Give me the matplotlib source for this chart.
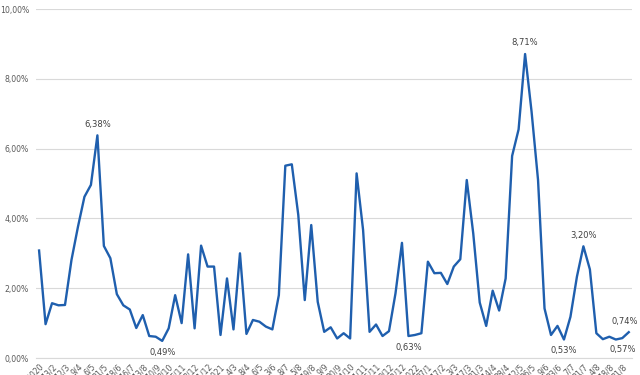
import matplotlib.pyplot as plt
from matplotlib.ticker import FuncFormatter

# weekly share, in percent
values = [
    3.08, 0.97, 1.57, 1.51, 1.52, 2.81, 3.76, 4.62, 4.96, 6.38,
    3.21, 2.86, 1.83, 1.51, 1.39, 0.86, 1.23, 0.63, 0.61, 0.49,
    0.85, 1.80, 1.00, 2.97, 0.85, 3.22, 2.62, 2.62, 0.66, 2.28,
    0.82, 3.00, 0.69, 1.09, 1.04, 0.90, 0.82, 1.80, 5.51, 5.55,
    4.10, 1.66, 3.81, 1.61, 0.75, 0.88, 0.56, 0.71, 0.56, 5.29,
    3.67, 0.75, 0.96, 0.63, 0.77, 1.85, 3.30, 0.63, 0.66, 0.71,
    2.76, 2.43, 2.44, 2.12, 2.62, 2.83, 5.10, 3.57, 1.59, 0.92,
    1.93, 1.36, 2.28, 5.79, 6.55, 8.71, 7.06, 5.10, 1.42, 0.66,
    0.92, 0.53, 1.18, 2.33, 3.20, 2.54, 0.71, 0.54, 0.61, 0.53,
    0.57, 0.74,
]

# one label on every second point
tick_labels = [
    "30/1/2020", "13/2", "12/3", "9/4", "6/5", "21/5", "18/6", "16/7",
    "13/8", "10/9", "8/10", "5/11", "3/12", "31/12", "28/1/2021", "4/3",
    "8/4", "6/5", "3/6", "8/7", "5/8", "19/8", "9/9", "30/9", "14/10",
    "1/11", "25/11", "9/12", "23/12", "13/1/2022", "27/1", "17/2", "3/3",
    "17/3", "31/3", "14/4", "28/4", "12/5", "26/5", "9/6", "23/6", "7/7",
    "21/7", "4/8", "18/8", "31/8",
]

# points that carry a value label
labelled_above = [9, 75, 84, 91]
labelled_below = [19, 57, 81, 90]

LINE = "#1F5FAE"
GRID = "#D9D9D9"
TEXT = "#595959"


def pct(v, decimals=2):
    return f"{v:.{decimals}f}".replace(".", ",") + "%"


fig = plt.figure(figsize=(6.4, 3.75), dpi=100)
ax = fig.add_axes([0.056, 0.0453, 0.9315, 0.9307])

x = list(range(len(values)))
ax.plot(x, values, color=LINE, linewidth=1.7, solid_joinstyle="round")

ax.set_xlim(-0.5, len(values) - 0.5)
ax.set_ylim(0, 10)
ax.set_yticks([0, 2, 4, 6, 8, 10])
ax.yaxis.set_major_formatter(FuncFormatter(lambda v, _: pct(v)))
ax.grid(axis="y", color=GRID, linewidth=0.8)
ax.set_axisbelow(True)

ax.set_xticks(x[::2])
ax.set_xticklabels(tick_labels, rotation=45, ha="right",
                   rotation_mode="anchor", fontsize=5.6, color=TEXT)
ax.tick_params(axis="both", length=0, labelsize=5.6, labelcolor=TEXT)
ax.tick_params(axis="y", pad=5)
ax.tick_params(axis="x", pad=3)

for side in ("top", "right", "left"):
    ax.spines[side].set_visible(False)
ax.spines["bottom"].set_color(GRID)
ax.spines["bottom"].set_linewidth(0.8)

for i in labelled_above:
    dx = -3 if i == len(values) - 1 else 0
    ax.annotate(pct(values[i]), (i, values[i]), xytext=(dx, 8),
                textcoords="offset points", ha="center", va="center",
                fontsize=6, color="#404040")
for i in labelled_below:
    ax.annotate(pct(values[i]), (i, values[i]), xytext=(0, -8),
                textcoords="offset points", ha="center", va="center",
                fontsize=6, color="#404040")

fig.savefig("out.png", dpi=100, facecolor="white")
